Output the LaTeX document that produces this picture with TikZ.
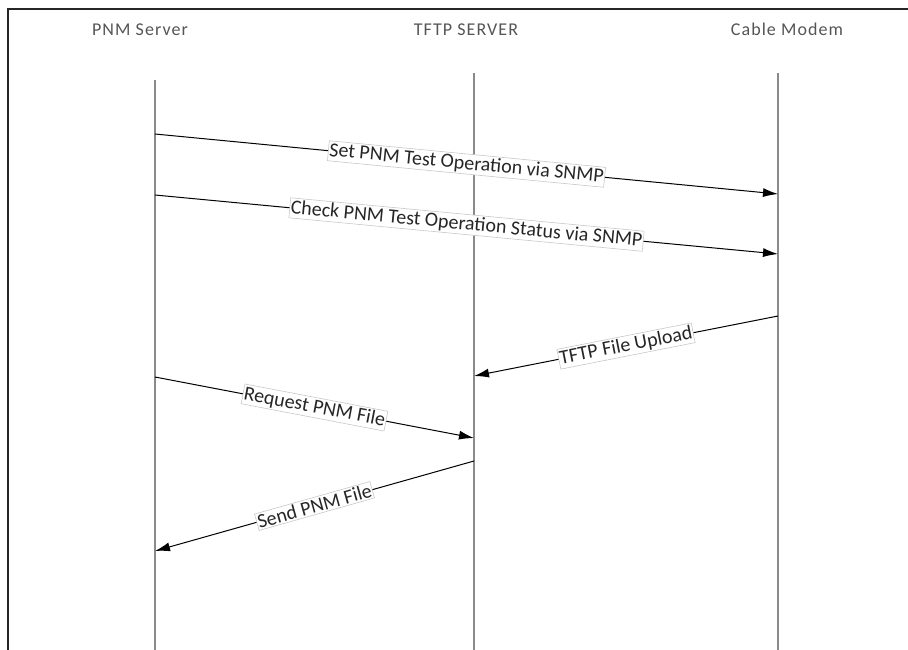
\documentclass[tikz,border=0pt]{standalone}
\usepackage{fontspec}
\setmainfont{Carlito}
\newfontfamily\headfont[LetterSpace=6]{Carlito}
\usetikzlibrary{arrows.meta, positioning}
\definecolor{lifegray}{HTML}{8A8A8A}
\definecolor{headgray}{HTML}{555555}
\definecolor{labeltext}{HTML}{262626}
\definecolor{boxgray}{HTML}{C8C8C8}
\tikzstyle{header} = [anchor=base, text=headgray, font=\headfont\fontsize{18}{20}\selectfont]
\tikzstyle{lifeline} = [draw=lifegray, line width=2.3pt]
\tikzstyle{msg} = [-{Latex[length=15pt, width=9pt]}, line width=1pt, draw=black]
\tikzstyle{msglabel} = [sloped, fill=white, draw=boxgray, line width=0.6pt, inner xsep=1pt, inner ysep=1.5pt, text=labeltext, font=\fontsize{20}{22}\selectfont]

\begin{document}
\begin{tikzpicture}[x=1pt, y=-1pt]
\useasboundingbox (0,0) rectangle (908,649);
\draw[line width=1.5pt, draw=black!85] (8,652) -- (8,9) -- (912,9);

\node (pnm) [header] at (140,35) {PNM Server};
\node (tftp) [header] at (466,35) {TFTP SERVER};
\node (cm) [header] at (787,35) {Cable Modem};

\coordinate (pnmtop) at (155,80);
\coordinate (pnmbot) at (155,652);
\coordinate (tftptop) at (474,73);
\coordinate (tftpbot) at (474,652);
\coordinate (cmtop) at (778,73);
\coordinate (cmbot) at (778,652);

\draw[lifeline] (pnmtop) -- (pnmbot);
\draw[lifeline] (tftptop) -- (tftpbot);
\draw[lifeline] (cmtop) -- (cmbot);

\coordinate (p1) at (155,134);
\coordinate (c1) at (778,194);
\coordinate (p2) at (155,195);
\coordinate (c2) at (778,254);
\coordinate (c3) at (778,316);
\coordinate (t3) at (474,376);
\coordinate (p4) at (155,377);
\coordinate (t4) at (474,438);
\coordinate (t5) at (474,461);
\coordinate (p5) at (155,551);

\draw[msg] (p1) -- node[msglabel] {Set PNM Test Operation via SNMP} (c1);
\draw[msg] (p2) -- node[msglabel] {Check PNM Test Operation Status via SNMP} (c2);
\draw[msg] (c3) -- node[msglabel] {TFTP File Upload} (t3);
\draw[msg] (p4) -- node[msglabel] {Request PNM File} (t4);
\draw[msg] (t5) -- node[msglabel] {Send PNM File} (p5);
\end{tikzpicture}
\end{document}
